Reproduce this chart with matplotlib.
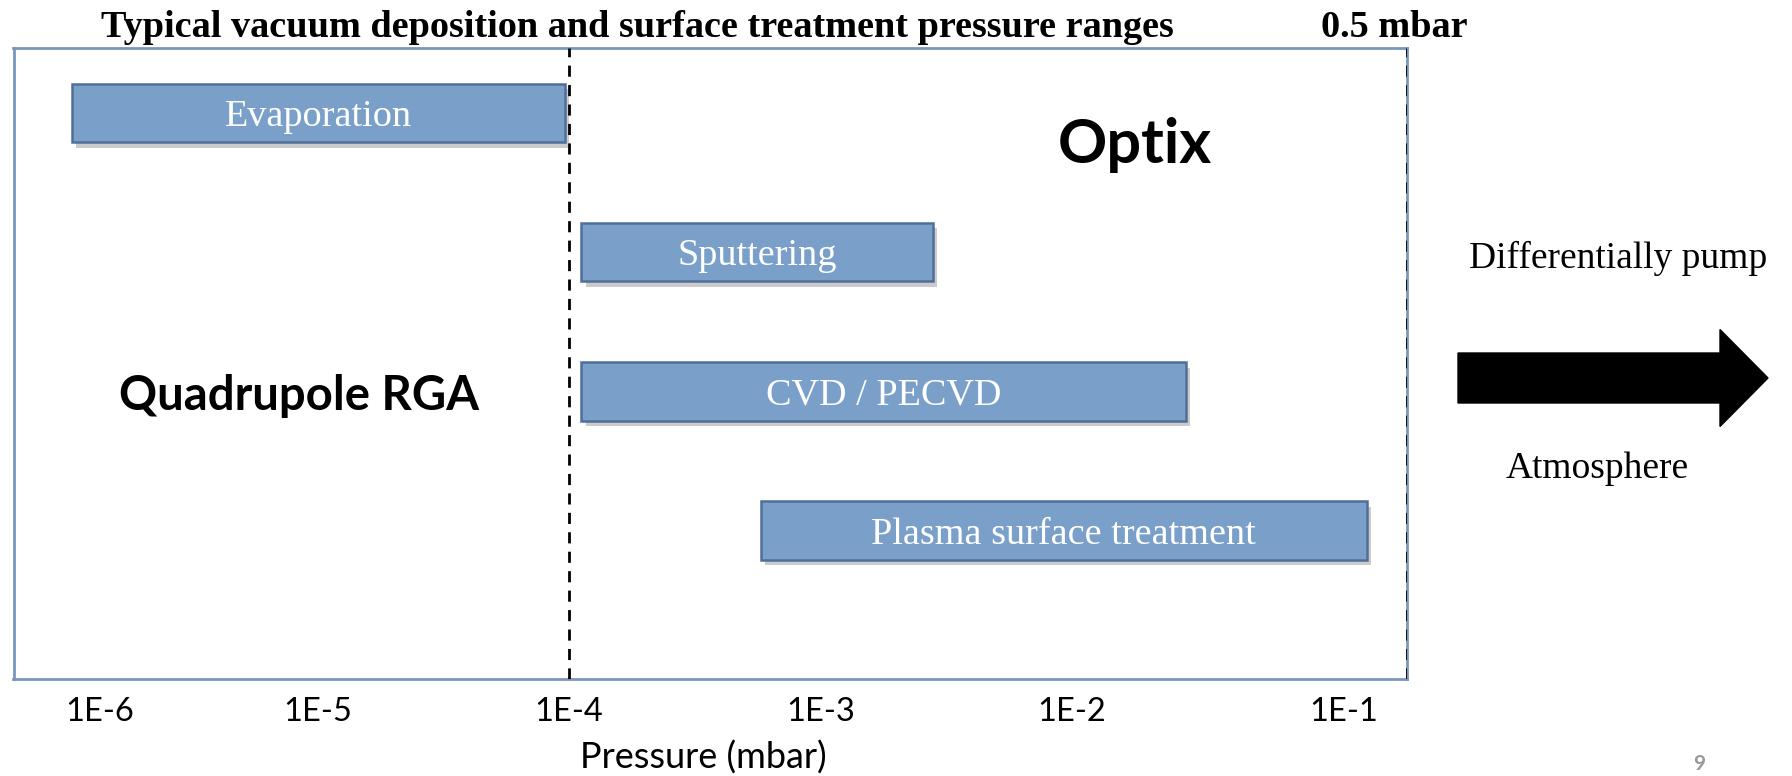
import numpy as np
import matplotlib
matplotlib.use("Agg")
import matplotlib.pyplot as plt
import matplotlib.patheffects as pe
from matplotlib.patches import FancyArrow

# process pressure ranges (mbar)
processes = ["Evaporation", "Sputtering", "CVD / PECVD", "Plasma surface treatment"]
p_low = np.array([1.05e-6, 1.12e-4, 1.12e-4, 5.8e-4])
p_high = np.array([9.6e-5, 2.8e-3, 2.85e-2, 0.149])

# label positions as they sit on the slide (outer ones are not quite on the decade)
tick_pos = [10 ** -5.866, 1e-5, 1e-4, 1e-3, 1e-2, 10 ** -0.917]
tick_labels = ["1E-6", "1E-5", "1E-4", "1E-3", "1E-2", "1E-1"]

rga_limit = 1e-4
x_min, x_max = 10 ** -6.21, 10 ** -0.667

serif = "Liberation Serif"
sans = "Lato"
bar_color = "#7aa0c9"
edge_color = "#4f6f98"
frame_color = "#7b96bb"

fig = plt.figure(figsize=(17.92, 7.76), dpi=100)
ax = fig.add_axes([13.5 / 1792, 1 - 679 / 776, (1407 - 13.5) / 1792, (679 - 48) / 776])

rows = np.arange(len(processes))
bars = ax.barh(rows, p_high - p_low, left=p_low, height=0.42,
               color=bar_color, edgecolor=edge_color, linewidth=1.8, zorder=3)
for b in bars:
    b.set_path_effects([pe.SimplePatchShadow(offset=(3, -4), alpha=0.3, shadow_rgbFace="#555555"),
                        pe.Normal()])

for r, name, lo, hi in zip(rows, processes, p_low, p_high):
    ax.text(np.sqrt(lo * hi), r, name, ha="center", va="center_baseline", color="white",
            family=serif, fontsize=27.5, zorder=4)

ax.set_xscale("log")
ax.set_xlim(x_min, x_max)
ax.set_ylim(4.065, -0.465)

ax.axvline(rga_limit, color="black", ls=(0, (4, 3)), lw=2, zorder=5)
ax.axvline(x_max, color="black", ls=(0, (4, 3)), lw=2, zorder=5)

ax.set_xticks(tick_pos)
ax.set_xticklabels(tick_labels, family=sans, fontsize=23.5)
ax.xaxis.set_minor_locator(matplotlib.ticker.NullLocator())
ax.tick_params(axis="x", length=0, pad=13)
ax.set_yticks([])
ax.set_xlabel("Pressure (mbar)", family=sans, fontsize=26)
ax.xaxis.set_label_coords((703 - 13.5) / 1393.5, -0.124)
ax.xaxis.label.set_va("center")

for s in ax.spines.values():
    s.set_color(frame_color)
    s.set_linewidth(2)

ax.text(0.805, 1 - 115 / 631, "Optix", transform=ax.transAxes, ha="center",
        va="baseline", family=sans, fontweight="bold", fontsize=44)
ax.text(0.205, 1 - 362 / 631, "Quadrupole RGA", transform=ax.transAxes, ha="center",
        va="baseline", family=sans, fontweight="bold", fontsize=34)

fig.text(637 / 1792, 1 - 37 / 776, "Typical vacuum deposition and surface treatment pressure ranges",
         ha="center", va="baseline", family=serif, fontweight="bold", fontsize=27.5)
fig.text(1394 / 1792, 1 - 37 / 776, "0.5 mbar", ha="center", va="baseline",
         family=serif, fontweight="bold", fontsize=27.5)

fig.text(1618 / 1792, 1 - 268 / 776, "Differentially pump", ha="center", va="baseline",
         family=serif, fontsize=27)
fig.text(1597 / 1792, 1 - 478 / 776, "Atmosphere", ha="center", va="baseline",
         family=serif, fontsize=27)

arrow = FancyArrow(1458 / 1792, 1 - 378 / 776, 310 / 1792, 0, width=50 / 776,
                   head_width=97 / 776, head_length=48 / 1792,
                   length_includes_head=True, color="black", transform=fig.transFigure)
fig.add_artist(arrow)

# slide number
fig.text(1699 / 1792, 2 / 776, "9", ha="center", va="bottom", color="#999999",
         family=sans, fontweight="bold", fontsize=15)

fig.savefig("out.png", dpi=100)
